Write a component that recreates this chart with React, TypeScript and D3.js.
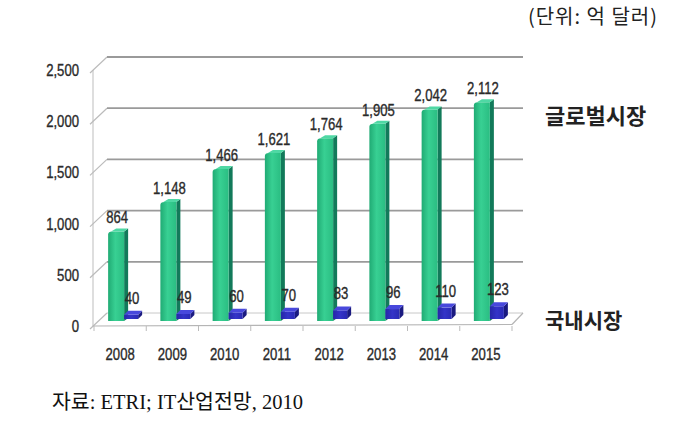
import React from "react";
import * as d3 from "d3";

const years = ["2008", "2009", "2010", "2011", "2012", "2013", "2014", "2015"];
const globalMarket = [864, 1148, 1466, 1621, 1764, 1905, 2042, 2112];
const domesticMarket = [40, 49, 60, 70, 83, 96, 110, 123];
const yTicks = [0, 500, 1000, 1500, 2000, 2500];
const seriesLabels = ["글로벌시장", "국내시장"];
const unitText = "(단위: 억 달러)";
const sourceText = "자료: ETRI; IT산업전망, 2010";

const W = 686;
const H = 423;
const DX = 13;
const DY = -13;

const fmt = d3.format(",");

function T({ x, y, sx = 0.82, size = 16, anchor = "middle", fill = "#2a2a2a", weight = "normal", family = "Arial, 'Liberation Sans', sans-serif", children }: any) {
  return (
    <text
      transform={`translate(${x},${y}) scale(${sx},1)`}
      textAnchor={anchor}
      fontSize={size}
      fill={fill}
      stroke={fill}
      strokeWidth={0.35}
      fontWeight={weight}
      fontFamily={family}
    >
      {children}
    </text>
  );
}

export default function App() {
  const x = d3.scaleBand<string>().domain(years).range([94, 512]);
  const gridY = d3.scaleLinear().domain([0, 2500]).range([313, 57]);
  const frontY = (v: number) => gridY(v) - DY;
  const barY = d3.scaleLinear().domain([0, 2500]).range([321, 62]);
  const blueY = d3.scaleLinear().domain([0, 2500]).range([319, 60]);
  const backLeft = 94 + DX;
  const backRight = 512 + DX - 2;

  return (
    <svg width={W} height={H} style={{ position: "absolute", left: 0, top: 0, background: "#fff" }}>
      <defs>
        <linearGradient id="gFront" x1="0" x2="1" y1="0" y2="0">
          <stop offset="0" stopColor="#20ab74" />
          <stop offset="0.45" stopColor="#38d093" />
          <stop offset="1" stopColor="#2abd82" />
        </linearGradient>
        <linearGradient id="bFront" x1="0" x2="1" y1="0" y2="0">
          <stop offset="0" stopColor="#2626a8" />
          <stop offset="0.5" stopColor="#3434c8" />
          <stop offset="1" stopColor="#2a2ab4" />
        </linearGradient>
      </defs>

      {/* unit text */}
      <text x={658} y={24} textAnchor="end" fontSize={20} letterSpacing={1} fill="#222" fontFamily="'Noto Sans CJK KR', 'Noto Sans', sans-serif">
        {unitText}
      </text>

      {/* left wall */}
      <line x1={93} x2={93} y1={frontY(2500)} y2={frontY(0)} stroke="#c8c8c8" strokeWidth={1.2} />
      {yTicks.map((t) => (
        <g key={"wall" + t}>
          <line x1={90} y1={frontY(t) + 3} x2={backLeft} y2={gridY(t)} stroke="#bbb" strokeWidth={1.2} />
          <line x1={backLeft} x2={backRight} y1={gridY(t)} y2={gridY(t)} stroke={t === 0 ? "#c8c8c8" : "#9a9a9a"} strokeWidth={t === 0 ? 1 : 1.8} />
          <T x={79} y={frontY(t) + 6} anchor="end">{fmt(t)}</T>
        </g>
      ))}

      {/* floor */}
      <line x1={93} x2={512} y1={frontY(0)} y2={frontY(0) - 1.5} stroke="#b5b5b5" strokeWidth={1.2} />
      <line x1={512} y1={frontY(0) - 1.5} x2={backRight} y2={gridY(0)} stroke="#b5b5b5" strokeWidth={1.2} />
      {d3.range(years.length + 1).map((k) => {
        const xx = 94 + k * x.bandwidth();
        return <line key={"ft" + k} x1={xx} x2={xx} y1={frontY(0)} y2={frontY(0) + 5} stroke="#bbb" strokeWidth={1} />;
      })}

      {/* bars */}
      {years.map((yr, i) => {
        const cx = (x(yr) as number) + x.bandwidth() / 2;
        const gv = globalMarket[i];
        const dv = domesticMarket[i];
        const gl = cx - 12;
        const gr = cx + 4;
        const gt = barY(gv);
        const gb = barY(0);
        const d = 4;
        const bl = cx + 4;
        const br = cx + 18;
        const bt = blueY(dv);
        const bb = blueY(0);
        return (
          <g key={yr}>
            <path d={`M${gr},${gt} L${gr + d},${gt - d + 1} L${gr + d},${gb - d + 1} L${gr},${gb} Z`} fill="#127a5a" />
            <path
              d={`M${gl},${gb} L${gl},${gt + 3} Q${gl},${gt} ${gl + 4},${gt} L${gr},${gt} L${gr},${gb} Z`}
              fill="url(#gFront)"
            />
            <path d={`M${gl + 3},${gt} L${gr},${gt} L${gr + d},${gt - d + 1} L${gl + 4 + d},${gt - d + 1} Z`} fill="#4fd8a4" />
            <path d={`M${br},${bt} L${br + d},${bt - d} L${br + d},${bb - d} L${br},${bb} Z`} fill="#1a1a80" />
            <rect x={bl} y={bt} width={br - bl} height={bb - bt} fill="url(#bFront)" />
            <path d={`M${bl},${bt} L${br},${bt} L${br + d},${bt - d} L${bl + d},${bt - d} Z`} fill="#4848dc" />
            <T x={cx - 3} y={gt - 8}>{fmt(gv)}</T>
            <T x={cx + 12} y={bt - 11}>{fmt(dv)}</T>
            <T x={cx} y={360}>{yr}</T>
          </g>
        );
      })}

      {/* series labels */}
      <text x={545} y={124} fontSize={22} fontWeight="bold" fill="#222" fontFamily="'Noto Sans CJK KR', sans-serif">
        {seriesLabels[0]}
      </text>
      <text x={545} y={328} fontSize={21} fontWeight="bold" fill="#222" fontFamily="'Noto Sans CJK KR', sans-serif">
        {seriesLabels[1]}
      </text>

      {/* source */}
      <text x={52} y={409} fontSize={20.5} fill="#111" fontFamily="'Liberation Serif', 'Times New Roman', 'Noto Sans CJK KR', serif">
        {sourceText}
      </text>
    </svg>
  );
}
